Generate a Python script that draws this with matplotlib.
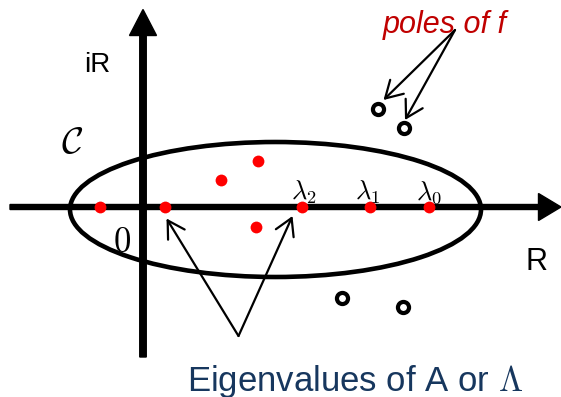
import matplotlib
matplotlib.use("Agg")
import matplotlib.pyplot as plt
from matplotlib.patches import Ellipse

# complex plane, 1 unit = 50 px, origin at the axis crossing
eig_re = [-0.86, 0.44, 1.56, 2.29, 2.25, 3.17, 4.54, 5.71]
eig_im = [0.0, 0.0, 0.55, 0.93, -0.39, 0.0, 0.0, 0.0]

pole_re = [4.69, 5.21, 3.97, 5.19]
pole_im = [1.97, 1.59, -1.81, -1.99]

lambda_labels = [r"$\lambda_2$", r"$\lambda_1$", r"$\lambda_0$"]
lambda_x = [3.22, 4.50, 5.71]

# contour C
contour_center = (2.65, -0.05)
contour_w, contour_h = 8.22, 2.70

# annotation arrows: start -> tips
eig_arrow_start = (1.91, -2.58)
eig_arrow_tips = [(0.47, -0.23), (2.99, -0.18)]
pole_arrow_start = (6.24, 3.54)
pole_arrow_tips = [(4.81, 2.14), (5.24, 1.74)]

plt.rcParams["font.family"] = ["Liberation Sans", "DejaVu Sans"]
plt.rcParams["mathtext.fontset"] = "cm"

fig = plt.figure(figsize=(5.61, 3.97), dpi=100)
ax = fig.add_axes([0, 0, 1, 1])
ax.set_xlim(-2.86, 8.36)
ax.set_ylim(-3.80, 4.14)
ax.set_aspect("equal")
ax.axis("off")

# ── axes of the plane ──
ax.arrow(-2.66, 0, 11.02, 0, width=0.10, head_width=0.54, head_length=0.45,
         length_includes_head=True, color="black", zorder=2)
ax.arrow(0, -3.0, 0, 6.95, width=0.13, head_width=0.54, head_length=0.52,
         length_includes_head=True, color="black", zorder=2)

# ── contour ──
ax.add_patch(Ellipse(contour_center, contour_w, contour_h, fill=False,
                     edgecolor="black", linewidth=3.3, zorder=3))

# ── eigenvalues & poles ──
ax.plot(eig_re, eig_im, "o", color="red", markersize=8.5, markeredgewidth=0,
        zorder=5)
ax.plot(pole_re, pole_im, "o", markerfacecolor="white", markeredgecolor="black",
        markersize=8, markeredgewidth=3, zorder=5)

# ── annotation arrows ──
arrow_kw = dict(arrowstyle="->,head_length=0.6,head_width=0.35", lw=1.6,
                color="black", mutation_scale=20, shrinkA=0, shrinkB=0)
for tip in eig_arrow_tips:
    ax.annotate("", xy=tip, xytext=eig_arrow_start, arrowprops=arrow_kw,
                zorder=4)
for tip in pole_arrow_tips:
    ax.annotate("", xy=tip, xytext=pole_arrow_start, arrowprops=arrow_kw,
                zorder=4)

# ── labels ──
for lab, lx in zip(lambda_labels, lambda_x):
    ax.text(lx, 0.14, lab, fontsize=19, ha="center", va="baseline", zorder=6)

ax.text(-0.92, 2.71, "iR", fontsize=20, ha="center", va="baseline")
ax.text(7.86, -1.25, "R", fontsize=22, ha="center", va="baseline")
ax.text(-0.42, -0.89, r"$0$", fontsize=25, ha="center", va="baseline")
ax.text(-1.41, 1.08, r"$\mathcal{C}$", fontsize=27, ha="center",
        va="baseline")
ax.text(6.04, 3.48, "poles of f", fontsize=22, style="italic",
        color="#C00000", ha="center", va="baseline")
ax.text(0.87, -3.68, r"Eigenvalues of A or $\Lambda$", fontsize=25,
        color="#17375E", ha="left", va="baseline")

fig.savefig("out.png", dpi=100, facecolor="white")
plt.close(fig)
